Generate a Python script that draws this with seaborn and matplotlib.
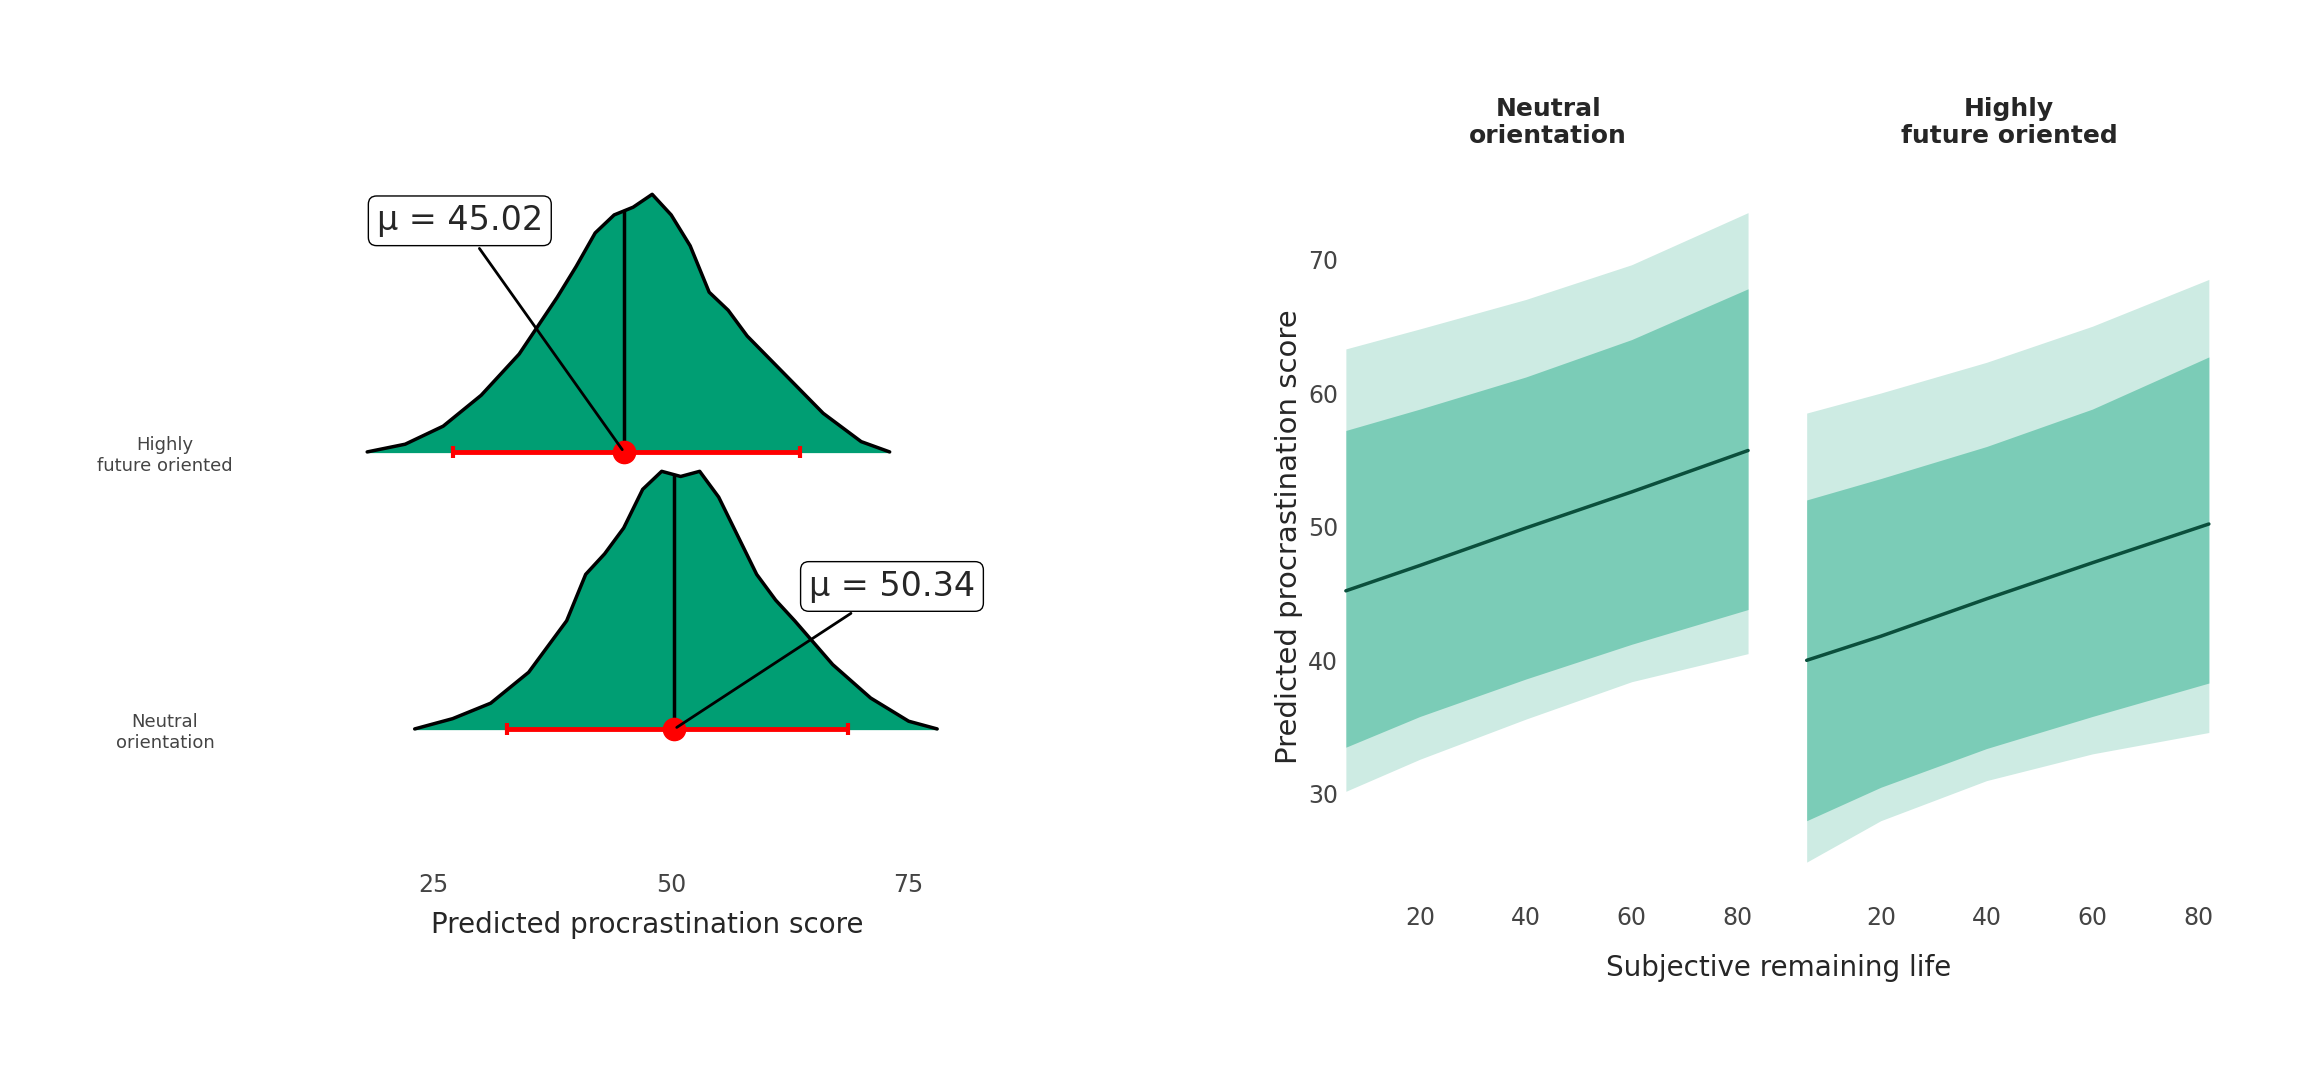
import numpy as np
import pandas as pd
import matplotlib
matplotlib.use('Agg') # Safe for headless execution
import matplotlib.pyplot as plt
import seaborn as sns

# Posterior densities
high_x = [18, 22, 26, 30, 34, 38, 40, 42, 44, 46, 48, 50, 52, 54, 56, 58, 62, 66, 70, 73]
high_d = [0, 0.03, 0.1, 0.22, 0.38, 0.6, 0.72, 0.85, 0.92, 0.95, 1.0, 0.92, 0.8, 0.62, 0.55, 0.45, 0.3, 0.15, 0.04, 0]
neut_x = [23, 27, 31, 35, 39, 41, 43, 45, 47, 49, 51, 53, 55, 57, 59, 61, 63, 67, 71, 75, 78]
neut_d = [0, 0.04, 0.1, 0.22, 0.42, 0.6, 0.68, 0.78, 0.93, 1.0, 0.98, 1.0, 0.9, 0.75, 0.6, 0.5, 0.42, 0.25, 0.12, 0.03, 0]
groups = ['Neutral\norientation', 'Highly\nfuture oriented']
means = [50.34, 45.02]
ci_low = [32.7, 27.0]
ci_high = [68.6, 63.6]

# Predicted score vs subjective remaining life
life = [6, 20, 40, 60, 82]
neut_fit = [45.2, 47.1, 49.9, 52.6, 55.7]
neut_in_lo = [33.5, 35.8, 38.6, 41.2, 43.8]
neut_in_hi = [57.2, 58.8, 61.2, 64.0, 67.8]
neut_out_lo = [30.2, 32.6, 35.6, 38.4, 40.5]
neut_out_hi = [63.3, 64.8, 67.0, 69.6, 73.5]
high_fit = [40.0, 41.8, 44.6, 47.3, 50.2]
high_in_lo = [28.0, 30.5, 33.4, 35.8, 38.3]
high_in_hi = [52.0, 53.6, 56.0, 58.8, 62.7]
high_out_lo = [24.9, 28.0, 31.0, 33.0, 34.6]
high_out_hi = [58.5, 60.0, 62.3, 65.0, 68.5]

sns.set_theme(style='white')
plt.rcParams['font.family'] = ['DejaVu Sans']

fig = plt.figure(figsize=(23.04, 10.67), dpi=100)

# 1. Ridgeline of posterior predictions
ax = fig.add_axes([0.147, 0.2, 0.268, 0.688])
scale = 0.93
for i, (xs, ds) in enumerate([(neut_x, neut_d), (high_x, high_d)]):
    ds = np.array(ds) * scale + i
    ax.fill_between(xs, i, ds, color='#009E73', zorder=2 * (2 - i))
    ax.plot(xs, ds, color='black', linewidth=2.5, zorder=2 * (2 - i) + 1)
    top = np.interp(means[i], xs, ds)
    ax.plot([means[i], means[i]], [i, top], color='black', linewidth=2.5, zorder=6)
    ax.errorbar(means[i], i, xerr=[[means[i] - ci_low[i]], [ci_high[i] - means[i]]],
                color='red', elinewidth=3.5, capsize=4, capthick=3, zorder=7)
    ax.plot(means[i], i, 'o', color='red', markersize=16, zorder=8)
ax.annotate('μ = 50.34', xy=(means[0], 0), xytext=(64.5, 0.48), fontsize=24,
            bbox=dict(boxstyle='round,pad=0.25', fc='white', ec='black'),
            arrowprops=dict(arrowstyle='-', color='black', lw=2), zorder=9)
ax.annotate('μ = 45.02', xy=(means[1], 1), xytext=(19.0, 1.8), fontsize=24,
            bbox=dict(boxstyle='round,pad=0.25', fc='white', ec='black'),
            arrowprops=dict(arrowstyle='-', color='black', lw=2), zorder=9)
ax.set_xlim(15, 80)
ax.set_ylim(-0.45, 2.2)
ax.set_xticks([25, 50, 75])
ax.set_yticks([0, 1])
ax.set_yticklabels(groups, fontsize=13, color='#444444', ha='center')
ax.tick_params(axis='y', pad=125, length=0)
ax.tick_params(axis='x', labelsize=17, colors='#444444', length=0, pad=14)
ax.set_xlabel('Predicted procrastination score', fontsize=20, labelpad=10)
sns.despine(ax=ax, left=True, bottom=True)

# 2. Faceted ribbons
facets = [
    ('Neutral\norientation', neut_fit, neut_in_lo, neut_in_hi, neut_out_lo, neut_out_hi, 0.583),
    ('Highly\nfuture oriented', high_fit, high_in_lo, high_in_hi, high_out_lo, high_out_hi, 0.783),
]
for j, (title, fit, ilo, ihi, olo, ohi, left) in enumerate(facets):
    fx = fig.add_axes([left, 0.187, 0.178, 0.62])
    fx.fill_between(life, olo, ohi, color='#CDEBE3', linewidth=0)
    fx.fill_between(life, ilo, ihi, color='#7BCCB7', linewidth=0)
    sns.lineplot(data=pd.DataFrame({'life': life, 'fit': fit}), x='life', y='fit',
                 color='#0B4F3C', linewidth=2.5, ax=fx)
    fx.set_xlim(5.5, 83)
    fx.set_ylim(24.5, 74)
    fx.set_xticks([20, 40, 60, 80])
    fx.set_title(title, fontsize=18, fontweight='bold', pad=45)
    fx.tick_params(labelsize=17, colors='#444444', length=0)
    fx.tick_params(axis='x', pad=28)
    fx.set_xlabel('')
    if j == 0:
        fx.set_yticks([30, 40, 50, 60, 70])
        fx.set_ylabel('Predicted procrastination score', fontsize=21)
    else:
        fx.set_yticks([])
        fx.set_ylabel('')
    sns.despine(ax=fx, left=True, bottom=True)
fig.text(0.772, 0.085, 'Subjective remaining life', fontsize=20, ha='center')

plt.savefig('out.png', dpi=100)
plt.close()
